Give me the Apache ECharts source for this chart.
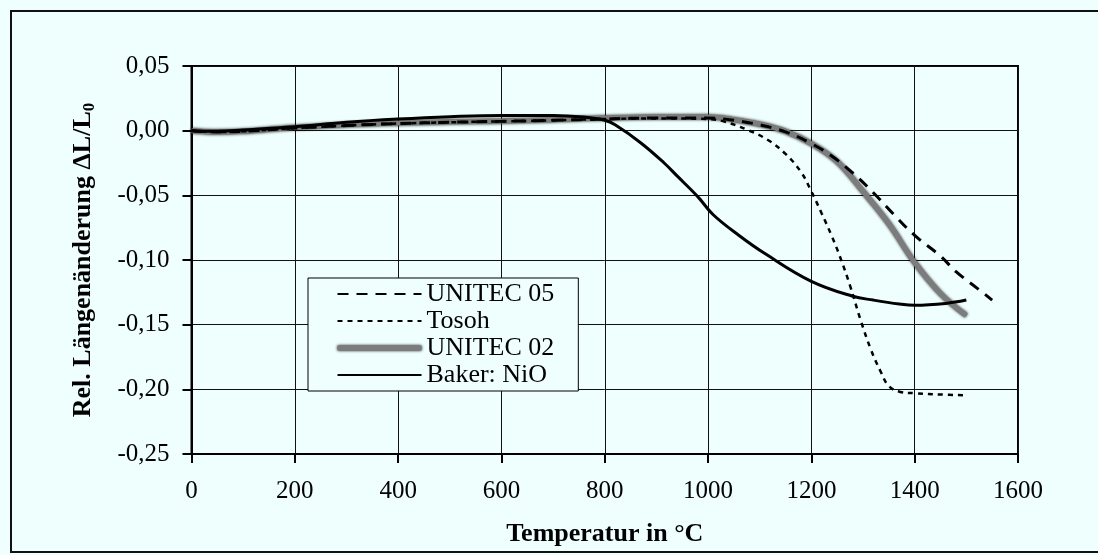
<!DOCTYPE html>
<html>
<head>
<meta charset="utf-8">
<script src="https://cdn.jsdelivr.net/npm/echarts@6/dist/echarts.min.js"></script>
<style>
html,body{margin:0;padding:0;background:#effffe;}
#c{width:1098px;height:555px;}
</style>
</head>
<body>
<div id="c"></div>
<script>
// ---- data ----
const seriesNames = ['UNITEC 05', 'Tosoh', 'UNITEC 02', 'Baker: NiO'];

const unitec05T = [0, 50, 100, 200, 300, 400, 500, 600, 700, 800, 900, 1000, 1050, 1100, 1150, 1200, 1240, 1280, 1320, 1360, 1400, 1450, 1480, 1520, 1550];
const unitec05V = [0, -0.001, -0.0005, 0.002, 0.004, 0.0055, 0.0065, 0.0072, 0.008, 0.009, 0.0098, 0.0098, 0.008, 0.0045, -0.001, -0.010, -0.0198, -0.0327, -0.048, -0.065, -0.081, -0.097, -0.109, -0.1215, -0.131];

const tosohT = [0, 50, 100, 200, 300, 400, 500, 600, 700, 800, 900, 1000, 1030, 1075, 1115, 1150, 1180, 1200, 1220, 1240, 1255, 1275, 1295, 1315, 1335, 1350, 1372, 1400, 1450, 1500];
const tosohV = [0, -0.001, -0.0005, 0.002, 0.004, 0.0055, 0.0065, 0.0072, 0.008, 0.009, 0.0095, 0.009, 0.0072, 0.0008, -0.007, -0.018, -0.032, -0.047, -0.064, -0.082, -0.097, -0.120, -0.146, -0.169, -0.187, -0.1975, -0.202, -0.203, -0.204, -0.2046];

const unitec02T = [0, 50, 100, 200, 300, 400, 500, 600, 700, 800, 900, 1000, 1050, 1100, 1150, 1200, 1250, 1300, 1350, 1400, 1450, 1500];
const unitec02V = [0, -0.001, -0.0005, 0.0025, 0.0045, 0.006, 0.0068, 0.0075, 0.0085, 0.0098, 0.0105, 0.0105, 0.0085, 0.005, -0.0005, -0.010, -0.024, -0.047, -0.072, -0.102, -0.126, -0.143];

const bakerT = [0, 50, 100, 200, 300, 400, 500, 600, 700, 760, 800, 820, 870, 915, 940, 980, 1010, 1060, 1110, 1200, 1280, 1320, 1370, 1400, 1460, 1500];
const bakerV = [0, -0.0005, 0.0005, 0.003, 0.0065, 0.009, 0.0108, 0.0118, 0.0118, 0.0105, 0.008, 0.0045, -0.0095, -0.025, -0.035, -0.051, -0.065, -0.081, -0.095, -0.1165, -0.128, -0.131, -0.134, -0.135, -0.1336, -0.131];

const xTicks = [0, 200, 400, 600, 800, 1000, 1200, 1400, 1600];
const yTicks = [-0.25, -0.20, -0.15, -0.10, -0.05, 0.00, 0.05];

// ---- build ----
const zip = (t, v) => t.map((x, i) => [x, v[i]]);
const FONT = 'Liberation Serif';

const thickStyle = {color: '#7c7c7c', width: 5, shadowColor: 'rgba(0,0,0,1)', shadowBlur: 3};

const chart = echarts.init(document.getElementById('c'), null, {renderer: 'canvas'});
chart.setOption({
  backgroundColor: '#effffe',
  animation: false,
  textStyle: {fontFamily: FONT, color: '#000'},
  graphic: [{
    type: 'rect', silent: true, z: 0,
    shape: {x: 11, y: 11, width: 1100, height: 541},
    style: {fill: 'none', stroke: '#111', lineWidth: 2}
  }],
  grid: {
    left: 191.5, right: 80, top: 66, bottom: 101,
    show: true, borderColor: '#000', borderWidth: 2, backgroundColor: 'transparent'
  },
  legend: {
    data: [
      {name: seriesNames[0]},
      {name: seriesNames[1]},
      {name: seriesNames[2], lineStyle: thickStyle},
      {name: seriesNames[3]}
    ],
    orient: 'vertical',
    left: 308, top: 278,
    width: 268,
    padding: [3, 24, 3, 27],
    itemWidth: 84, itemHeight: 10, itemGap: 1,
    backgroundColor: '#effffe',
    borderColor: '#000', borderWidth: 1, borderRadius: 0,
    itemStyle: {opacity: 0},
    textStyle: {fontFamily: FONT, fontSize: 26, lineHeight: 26, color: '#000'},
    selectedMode: false
  },
  xAxis: {
    type: 'value', min: xTicks[0], max: xTicks[xTicks.length - 1], interval: 200,
    axisLine: {show: true, onZero: false, lineStyle: {color: '#000', width: 2}},
    axisTick: {show: true, inside: false, length: 9, lineStyle: {color: '#000', width: 2}},
    axisLabel: {fontFamily: FONT, fontSize: 25, color: '#000', margin: 25, formatter: v => String(v)},
    splitLine: {show: true, lineStyle: {color: '#111', width: 1}},
    name: 'Temperatur in °C', nameLocation: 'middle', nameGap: 67,
    nameTextStyle: {fontFamily: FONT, fontSize: 26, fontWeight: 'bold', color: '#000'}
  },
  yAxis: {
    type: 'value', min: yTicks[0], max: yTicks[yTicks.length - 1], interval: 0.05,
    axisLine: {show: true, onZero: false, lineStyle: {color: '#000', width: 2}},
    axisTick: {show: true, inside: false, length: 9, lineStyle: {color: '#000', width: 2}},
    axisLabel: {
      fontFamily: FONT, fontSize: 25, color: '#000', margin: 22,
      formatter: v => (Math.abs(v) < 1e-9 ? 0 : v).toFixed(2).replace('.', ',')
    },
    splitLine: {show: true, lineStyle: {color: '#111', width: 1}},
    name: '{a|Rel. Längenänderung ΔL/L}{b|0}', nameLocation: 'middle', nameGap: 93, nameRotate: 90,
    nameTextStyle: {
      fontFamily: FONT, fontWeight: 'bold', color: '#000',
      rich: {
        a: {fontFamily: FONT, fontSize: 26, fontWeight: 'bold', lineHeight: 30, color: '#000'},
        b: {fontFamily: FONT, fontSize: 17, fontWeight: 'bold', verticalAlign: 'bottom', color: '#000'}
      }
    }
  },
  series: [
    {
      name: seriesNames[0], type: 'line', smooth: 0.4, symbol: 'none', z: 4,
      data: zip(unitec05T, unitec05V),
      lineStyle: {color: '#000', width: 3, type: [11, 8]}
    },
    {
      name: seriesNames[1], type: 'line', smooth: 0.4, symbol: 'none', z: 4,
      data: zip(tosohT, tosohV),
      lineStyle: {color: '#000', width: 2.5, type: [5, 5]}
    },
    {
      name: seriesNames[2], type: 'line', smooth: 0.4, symbol: 'none', z: 3,
      data: zip(unitec02T, unitec02V),
      lineStyle: thickStyle
    },
    {
      name: seriesNames[3], type: 'line', smooth: 0.4, symbol: 'none', z: 5,
      data: zip(bakerT, bakerV),
      lineStyle: {color: '#000', width: 3}
    }
  ]
});
</script>
</body>
</html>
